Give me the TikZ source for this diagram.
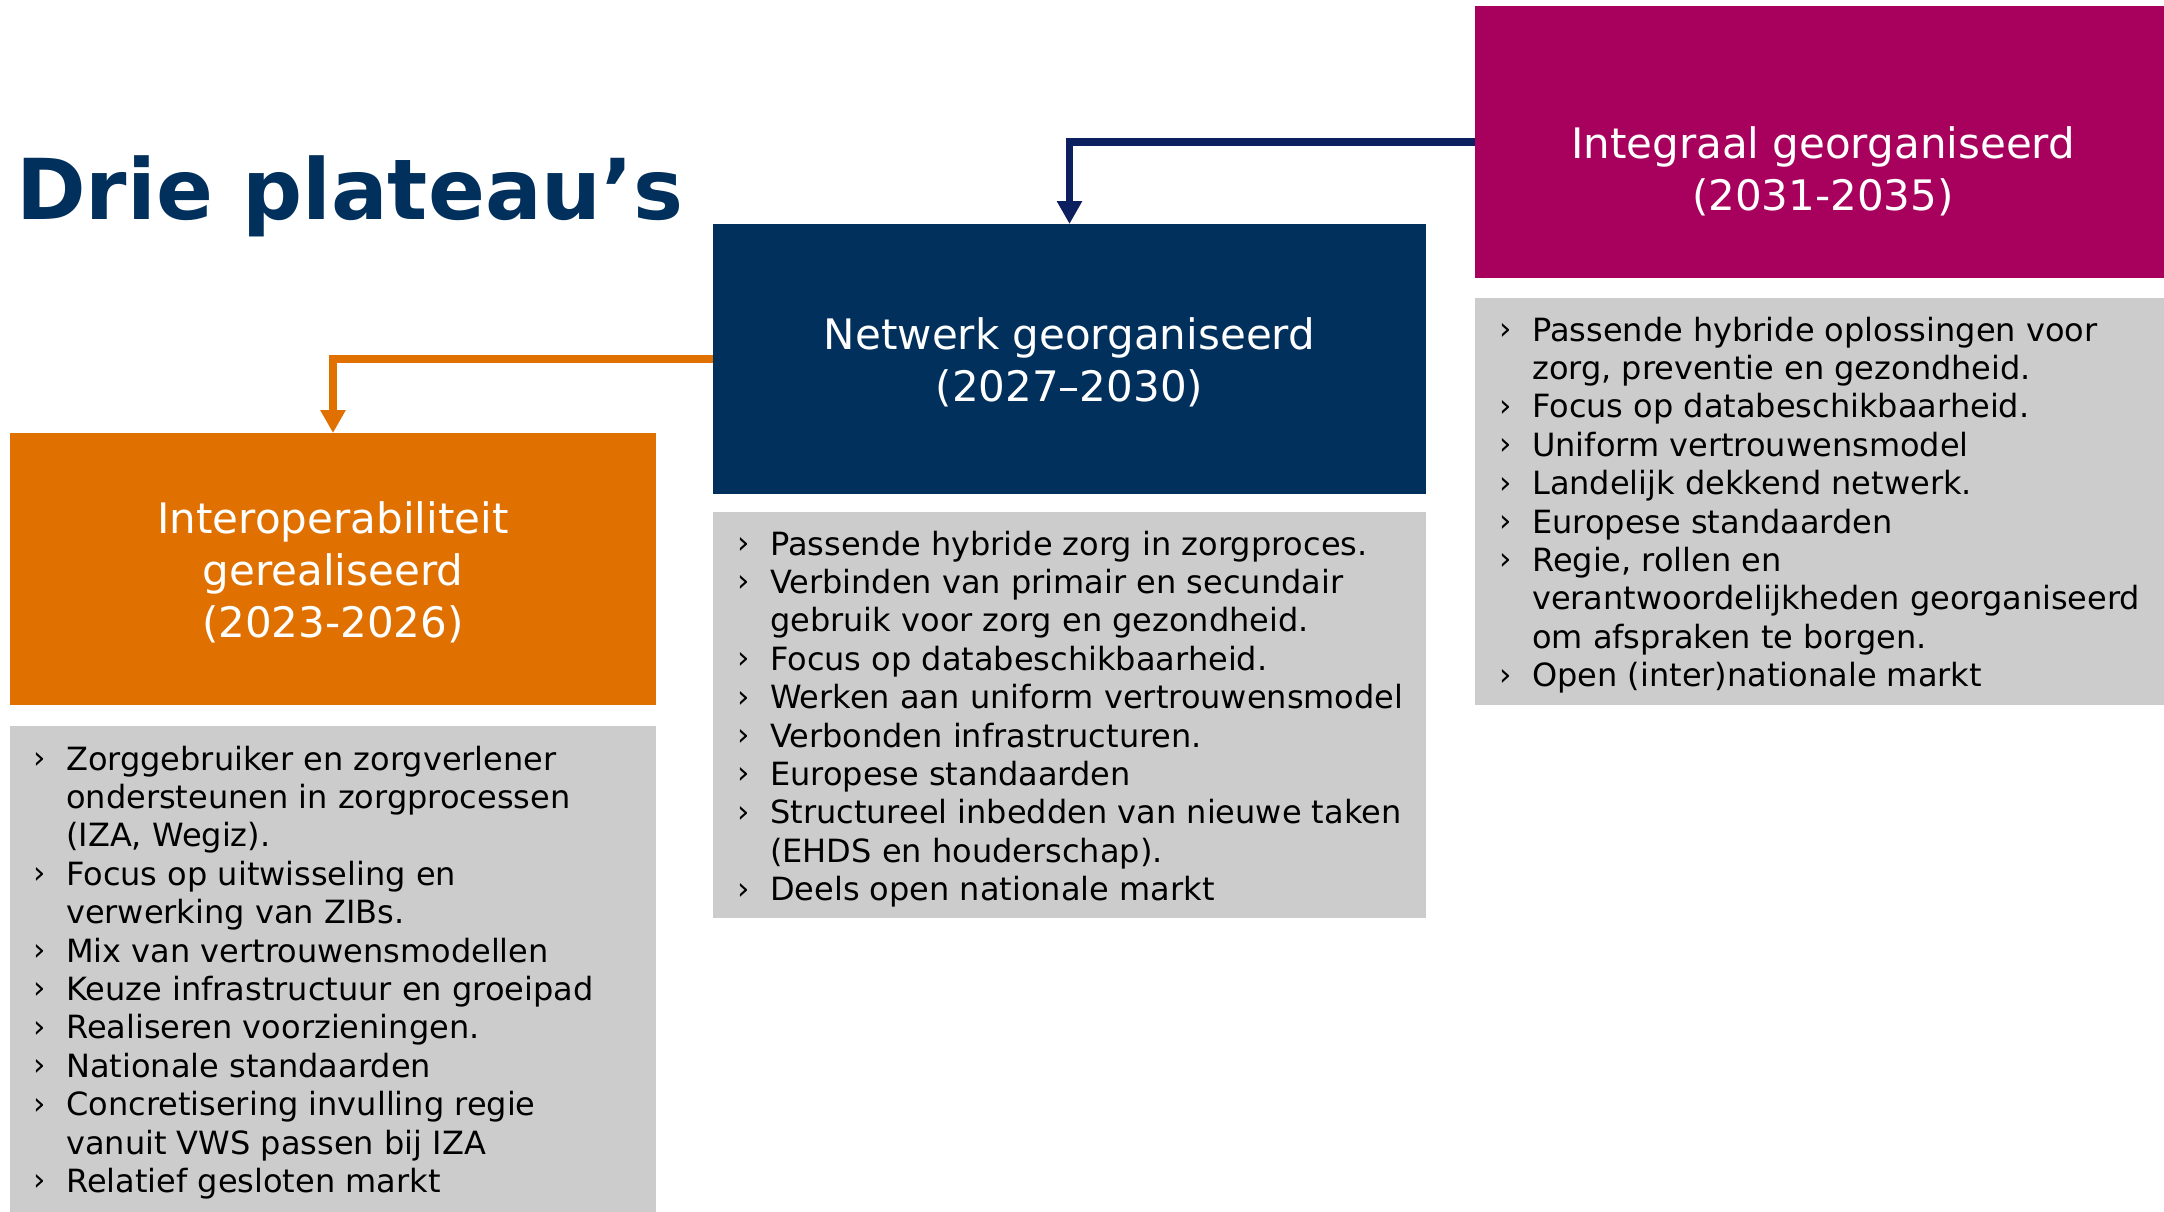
\documentclass[tikz,border=0pt]{standalone}
\usepackage{fontspec}
\setmainfont{DejaVu Sans}
\usetikzlibrary{arrows.meta}
\definecolor{navybox}{HTML}{02305C}
\definecolor{navyarrow}{HTML}{0C1F5E}
\definecolor{magentabox}{HTML}{A8005D}
\definecolor{orangebox}{HTML}{E07000}
\definecolor{graybox}{HTML}{CCCCCC}
\newcommand{\bul}{{\fontsize{31}{38.4}\selectfont\raisebox{1.5pt}{›}}}
\newcommand{\lst}[1]{\fontsize{32}{38.4}\selectfont\begin{tabular}[t]{@{}p{33pt}@{}l@{}}#1\end{tabular}}
\tikzset{
  panel/.style={draw=none, inner sep=0pt, outer sep=0pt, anchor=north west},
  heading/.style={text=white, align=center, inner sep=0pt, font=\fontsize{42}{52}\selectfont},
  listtext/.style={anchor=base west, inner sep=0pt, text=black},
  conn/.style={line width=7.3pt, -{Triangle[length=23pt,width=24pt]}}
}
\begin{document}
\begin{tikzpicture}[x=1pt,y=-1pt]
\useasboundingbox (0,0) rectangle (2164,1212);
% title
\node[anchor=base west, inner sep=0pt, text=navybox, font=\bfseries\fontsize{84}{100}\selectfont] (title) at (16,219) {Drie plateau’s};
% coloured panels
\node[panel, fill=magentabox, minimum width=689pt, minimum height=272pt] (mag) at (1475,6) {};
\node[panel, fill=navybox, minimum width=713pt, minimum height=270pt] (navy) at (713,224) {};
\node[panel, fill=orangebox, minimum width=646pt, minimum height=272pt] (orange) at (10,433) {};
% grey panels
\node[panel, fill=graybox, minimum width=689pt, minimum height=407pt] (maggray) at (1475,298) {};
\node[panel, fill=graybox, minimum width=713pt, minimum height=406pt] (navygray) at (713,512) {};
\node[panel, fill=graybox, minimum width=646pt, minimum height=486pt] (orangegray) at (10,726) {};
% headings
\node[heading] (maghead) at (1823,171) {Integraal georganiseerd\\(2031-2035)};
\node[heading] (navyhead) at (1069.5,362.5) {Netwerk georganiseerd\\(2027–2030)};
\node[heading] (orangehead) at (333,572) {Interoperabiliteit\\gerealiseerd\\(2023-2026)};
% connectors
\draw[conn, navyarrow] (mag.west) -| (navy.north);
\draw[conn, orangebox] (navy.west) -| (orange.north);
% lists
\node[listtext] (maglist) at (1499,341) {\lst{
\bul & Passende hybride oplossingen voor\\
     & zorg, preventie en gezondheid.\\
\bul & Focus op databeschikbaarheid.\\
\bul & Uniform vertrouwensmodel\\
\bul & Landelijk dekkend netwerk.\\
\bul & Europese standaarden\\
\bul & Regie, rollen en\\
     & verantwoordelijkheden georganiseerd\\
     & om afspraken te borgen.\\
\bul & Open (inter)nationale markt\\}};
\node[listtext] (navylist) at (737,555) {\lst{
\bul & Passende hybride zorg in zorgproces.\\
\bul & Verbinden van primair en secundair\\
     & gebruik voor zorg en gezondheid.\\
\bul & Focus op databeschikbaarheid.\\
\bul & Werken aan uniform vertrouwensmodel\\
\bul & Verbonden infrastructuren.\\
\bul & Europese standaarden\\
\bul & Structureel inbedden van nieuwe taken\\
     & (EHDS en houderschap).\\
\bul & Deels open nationale markt\\}};
\node[listtext] (orangelist) at (33,770) {\lst{
\bul & Zorggebruiker en zorgverlener\\
     & ondersteunen in zorgprocessen\\
     & (IZA, Wegiz).\\
\bul & Focus op uitwisseling en\\
     & verwerking van ZIBs.\\
\bul & Mix van vertrouwensmodellen\\
\bul & Keuze infrastructuur en groeipad\\
\bul & Realiseren voorzieningen.\\
\bul & Nationale standaarden\\
\bul & Concretisering invulling regie\\
     & vanuit VWS passen bij IZA\\
\bul & Relatief gesloten markt\\}};
\end{tikzpicture}
\end{document}
